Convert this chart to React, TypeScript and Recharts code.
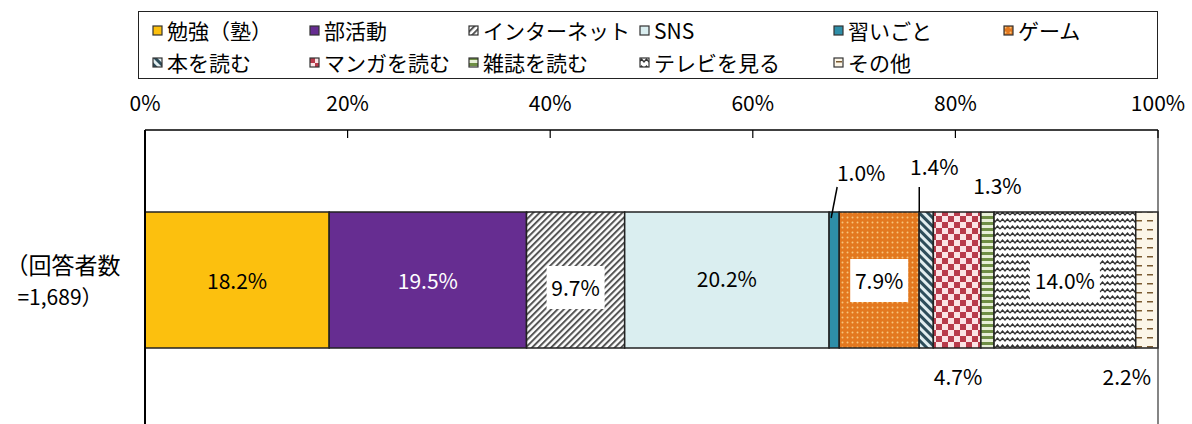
import { BarChart, Bar, XAxis, YAxis, LabelList, ReferenceLine } from 'recharts'

const categories = ['（回答者数\n=1,689）']
const seriesNames = ['勉強（塾）', '部活動', 'インターネット', 'SNS', '習いごと', 'ゲーム', '本を読む', 'マンガを読む', '雑誌を読む', 'テレビを見る', 'その他']
const seriesValues = [18.2, 19.5, 9.7, 20.2, 1.0, 7.9, 1.4, 4.7, 1.3, 14.0, 2.2]
const xTicks = [0, 0.2, 0.4, 0.6, 0.8, 1]

const FONT = '"Noto Sans CJK JP", "Noto Sans", sans-serif'

const fills = [
  '#fcc00e', '#662d91', 'url(#pNet)', '#daeef0', '#2e8ea8', 'url(#pGame)',
  'url(#pBook)', 'url(#pManga)', 'url(#pMag)', 'url(#pTv)', 'url(#pOther)',
]

// how each value label sits against its bar
type LabelCfg = { pos: 'in' | 'top' | 'bottom'; color?: string; box?: boolean; dx?: number; dy?: number; leader?: number[][] }
const labelCfg: LabelCfg[] = [
  { pos: 'in' },
  { pos: 'in', color: '#fff' },
  { pos: 'in', box: true, dy: 7 },
  { pos: 'in', dy: -2 },
  { pos: 'top', dx: 27, dy: -40, leader: [[-3, 6], [3, -25]] },
  { pos: 'in', box: true },
  { pos: 'top', dx: 8, dy: -46, leader: [[-7, 0], [-7, -25]] },
  { pos: 'bottom', dx: 1, dy: 28 },
  { pos: 'top', dx: 10, dy: -27 },
  { pos: 'in', box: true },
  { pos: 'bottom', dx: -20, dy: 28 },
]

// legend grid (page coords relative to legend box)
const legendCols = [13, 170, 329, 500, 694, 864]
const legendRows = [18, 50]

const row: Record<string, string | number> = { name: categories[0] }
seriesValues.forEach((v, i) => { row['s' + i] = v })
const data = [row]

function makeLabel(i: number) {
  const cfg = labelCfg[i]
  return (props: any) => {
    const x = Number(props.x), y = Number(props.y), w = Number(props.width), h = Number(props.height)
    const text = seriesValues[i].toFixed(1) + '%'
    const cx = x + w / 2 + (cfg.dx ?? 0)
    let cy = y + h / 2 + (cfg.dy ?? 0)
    if (cfg.pos === 'top') cy = y + (cfg.dy ?? 0)
    if (cfg.pos === 'bottom') cy = y + h + (cfg.dy ?? 0)
    const bw = text.length * 12 + 10
    return (
      <g>
        {cfg.leader && (
          <line x1={x + w / 2 + cfg.leader[0][0]} y1={y + cfg.leader[0][1]}
            x2={x + w / 2 + cfg.leader[1][0]} y2={y + cfg.leader[1][1]} stroke="#000" strokeWidth={1.5} />
        )}
        {cfg.box && <rect x={cx - bw / 2} y={cy - 21} width={bw} height={43} fill="#fff" />}
        <text x={cx} y={cy} textAnchor="middle" dominantBaseline="central"
          fontSize={21} fontFamily={FONT} fill={cfg.color ?? '#000'}>{text}</text>
      </g>
    )
  }
}

function TopTick({ x, y, payload }: any) {
  return (
    <g>
      <line x1={x} y1={y} x2={x} y2={y + 8} stroke="#000" strokeWidth={1.2} />
      <text x={x} y={y - 19} textAnchor="middle" fontSize={21} fontFamily={FONT} fill="#000">
        {Math.round(payload.value * 100)}%
      </text>
    </g>
  )
}

function LeftTick({ y, payload }: any) {
  const lines = String(payload.value).split('\n')
  return (
    <text x={65} y={y} textAnchor="middle" fontSize={23} fontFamily={FONT} fill="#000">
      <tspan x={63} dy={-6}>{lines[0]}</tspan>
      <tspan x={60} dy={31} fontSize={21}>{lines[1]}</tspan>
    </text>
  )
}

function Patterns() {
  return (
    <defs>
      <pattern id="pNet" width={4.5} height={4.5} patternUnits="userSpaceOnUse" patternTransform="rotate(45)">
        <rect width={4.5} height={4.5} fill="#fff" />
        <rect width={2} height={4.5} fill="#555" />
      </pattern>
      <pattern id="pGame" width={5} height={5} patternUnits="userSpaceOnUse">
        <rect width={5} height={5} fill="#e3781f" />
        <circle cx={2.5} cy={2.5} r={1} fill="#f7c47a" />
      </pattern>
      <pattern id="pBook" width={6} height={6} patternUnits="userSpaceOnUse" patternTransform="rotate(-45)">
        <rect width={6} height={6} fill="#e2eef0" />
        <rect width={3} height={6} fill="#2d4d5a" />
      </pattern>
      <pattern id="pManga" width={12} height={12} patternUnits="userSpaceOnUse">
        <rect width={12} height={12} fill="#fbe4e6" />
        <rect width={6} height={6} fill="#b83b4b" />
        <rect x={6} y={6} width={6} height={6} fill="#b83b4b" />
      </pattern>
      <pattern id="pMag" width={6} height={6} patternUnits="userSpaceOnUse">
        <rect width={6} height={6} fill="#e8f0d8" />
        <rect width={6} height={3} fill="#6f8f45" />
      </pattern>
      <pattern id="pTv" width={10} height={7} patternUnits="userSpaceOnUse">
        <rect width={10} height={7} fill="#fff" />
        <path d="M0 5 L2.5 2 L5 5 L7.5 2 L10 5" fill="none" stroke="#333" strokeWidth={1.4} />
      </pattern>
      <pattern id="pOther" width={11} height={9} patternUnits="userSpaceOnUse">
        <rect width={11} height={9} fill="#fcf6e8" />
        <rect x={3} y={4} width={6} height={1.5} fill="#7a5a30" />
      </pattern>
    </defs>
  )
}

export default function App() {
  return (
    <div style={{ position: 'relative', width: 1192, height: 424, background: '#fff', fontFamily: FONT }}>
      <style>{'body{margin:0}'}</style>
      <BarChart width={1192} height={424} data={data} layout="vertical" stackOffset="expand"
        margin={{ top: 100, right: 34, bottom: -6, left: 0 }}>
        <Patterns />
        <XAxis type="number" orientation="top" domain={[0, 1]} ticks={xTicks} height={30}
          axisLine={{ stroke: '#000', strokeWidth: 1.5 }} tickLine={false} tickSize={0} tickMargin={0}
          tick={<TopTick />} interval={0} />
        <YAxis type="category" dataKey="name" width={145} axisLine={{ stroke: '#000', strokeWidth: 2 }}
          tickLine={false} tick={<LeftTick />} />
        <ReferenceLine x={1} stroke="#333" strokeWidth={1.2} />
        {seriesNames.map((n, i) => (
          <Bar key={n} dataKey={'s' + i} name={n} stackId="a" fill={fills[i]} stroke="#222" strokeWidth={1.5}
            barSize={136} isAnimationActive={false}>
            <LabelList dataKey={'s' + i} content={makeLabel(i)} />
          </Bar>
        ))}
      </BarChart>
      <div style={{ position: 'absolute', left: 138, top: 11, width: 1020, height: 68, border: '1.5px solid #222', boxSizing: 'border-box' }}>
        {seriesNames.map((n, i) => {
          const col = i < 6 ? i : i - 6
          const r = i < 6 ? 0 : 1
          return (
            <div key={n} style={{ position: 'absolute', left: legendCols[col], top: legendRows[r] - 14, height: 28, display: 'flex', alignItems: 'center', whiteSpace: 'nowrap', fontSize: 21, color: '#000' }}>
              <svg width={11} height={11} style={{ marginRight: 4 }}>
                <rect x={1} y={1} width={9} height={9} fill={fills[i]} stroke="#333" strokeWidth={1.2} />
              </svg>
              {n}
            </div>
          )
        })}
      </div>
    </div>
  )
}
